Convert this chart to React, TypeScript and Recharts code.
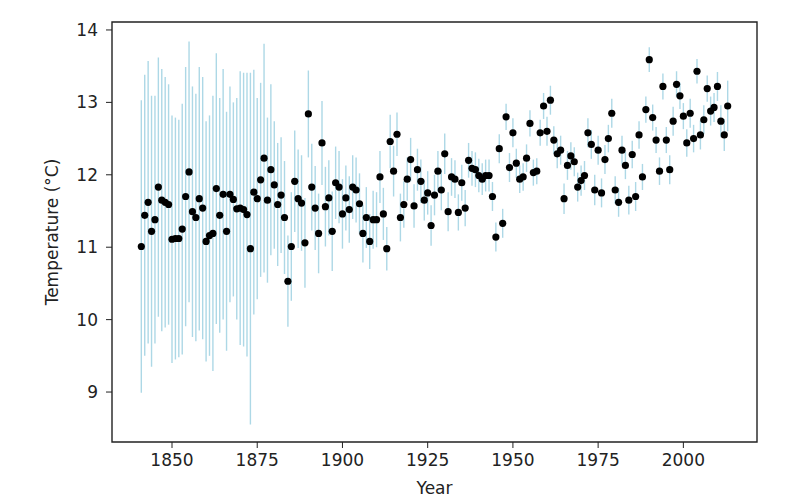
import React from 'react';
import { ScatterChart, Scatter, XAxis, YAxis, ErrorBar, ReferenceArea } from 'recharts';

// annual mean temperature, one value per year starting at 1841
const firstYear = 1841;
const temps = [
  11.01, 11.44, 11.62, 11.22, 11.38, 11.83, 11.65, 11.62, 11.59, 11.11,
  11.12, 11.12, 11.25, 11.7, 12.04, 11.49, 11.41, 11.67, 11.54, 11.08,
  11.16, 11.19, 11.81, 11.44, 11.73, 11.22, 11.73, 11.66, 11.53, 11.54,
  11.52, 11.45, 10.98, 11.76, 11.67, 11.93, 12.23, 11.65, 12.07, 11.86,
  11.59, 11.72, 11.41, 10.53, 11.01, 11.91, 11.67, 11.61, 11.06, 12.84,
  11.83, 11.54, 11.19, 12.44, 11.56, 11.68, 11.22, 11.89, 11.83, 11.46,
  11.68, 11.52, 11.83, 11.79, 11.6, 11.19, 11.41, 11.08, 11.38, 11.38,
  11.97, 11.46, 10.98, 12.46, 12.05, 12.56, 11.41, 11.59, 11.94, 12.21,
  11.57, 12.07, 11.91, 11.65, 11.75, 11.3, 11.72, 12.05, 11.79, 12.29,
  11.49, 11.97, 11.94, 11.48, 11.89, 11.54, 12.2, 12.09, 12.07, 11.99,
  11.94, 11.99, 11.99, 11.7, 11.14, 12.36, 11.33, 12.8, 12.1, 12.58,
  12.16, 11.94, 11.97, 12.23, 12.71, 12.03, 12.05, 12.58, 12.95, 12.6,
  13.03, 12.48, 12.29, 12.34, 11.67, 12.13, 12.26, 12.18, 11.83, 11.92,
  11.99, 12.58, 12.42, 11.79, 12.34, 11.75, 12.21, 12.5, 12.85, 11.79,
  11.62, 12.34, 12.13, 11.65, 12.28, 11.7, 12.55, 11.97, 12.9, 13.59,
  12.79, 12.48, 12.05, 13.22, 12.48, 12.07, 12.74, 13.25, 13.09, 12.81,
  12.44, 12.85, 12.5, 13.43, 12.55, 12.76, 13.19, 12.88, 12.93, 13.22,
  12.74, 12.55, 12.95,
];
// half-width of the uncertainty bar for each year
const uncertainty = [
  2.02, 1.94, 1.95, 1.87, 1.71, 1.79, 1.81, 1.73, 1.66, 1.71,
  1.67, 1.64, 1.73, 1.79, 1.8, 1.73, 1.71, 1.82, 1.81, 1.66,
  1.66, 1.9, 1.87, 1.62, 1.73, 1.65, 1.49, 1.34, 1.53, 1.89,
  1.89, 1.96, 2.43, 1.69, 1.39, 1.34, 1.58, 1.14, 1.18, 0.88,
  0.85, 0.8, 0.78, 0.63, 0.75, 0.7, 0.68, 0.66, 0.62, 0.6,
  0.6, 0.58, 0.55, 0.58, 0.55, 0.52, 0.55, 0.5, 0.5, 0.48,
  0.45, 0.46, 0.44, 0.45, 0.42, 0.4, 0.42, 0.38, 0.4, 0.38,
  0.36, 0.36, 0.3, 0.37, 0.35, 0.3, 0.33, 0.32, 0.3, 0.3,
  0.3, 0.29, 0.3, 0.28, 0.3, 0.28, 0.28, 0.28, 0.28, 0.28,
  0.27, 0.26, 0.26, 0.25, 0.25, 0.25, 0.24, 0.24, 0.24, 0.23,
  0.22, 0.22, 0.22, 0.2, 0.2, 0.2, 0.2, 0.18, 0.2, 0.2,
  0.2, 0.19, 0.19, 0.19, 0.18, 0.18, 0.18, 0.18, 0.18, 0.2,
  0.2, 0.19, 0.2, 0.2, 0.21, 0.2, 0.19, 0.2, 0.2, 0.21,
  0.2, 0.2, 0.2, 0.21, 0.2, 0.2, 0.2, 0.19, 0.2, 0.19,
  0.2, 0.2, 0.19, 0.2, 0.19, 0.2, 0.19, 0.18, 0.18, 0.17,
  0.18, 0.18, 0.19, 0.18, 0.18, 0.2, 0.2, 0.18, 0.18, 0.18,
  0.19, 0.2, 0.19, 0.17, 0.2, 0.2, 0.18, 0.2, 0.2, 0.2,
  0.22, 0.22, 0.35,
];

const xTicks = [1850, 1875, 1900, 1925, 1950, 1975, 2000];
const yTicks = [9, 10, 11, 12, 13, 14];

const data = temps.map((t, i) => ({ year: firstYear + i, temp: t, err: uncertainty[i] }));

const X_DOMAIN: [number, number] = [1832.4, 2021.6];
const Y_DOMAIN: [number, number] = [8.31, 14.11];

const FONT = "'DejaVu Sans', sans-serif";
const tickStyle = { fontSize: 17, fill: '#222', fontFamily: FONT };

const Dot = (props: any) => {
  const { cx, cy } = props;
  if (cx == null || cy == null) return null;
  return <circle cx={cx} cy={cy} r={3.6} fill="#000" />;
};

const XLabel = (props: any) => {
  const { x, y, width } = props.viewBox;
  return (
    <text x={x + width / 2} y={y + 52} textAnchor="middle" fontSize={17} fill="#222" fontFamily={FONT}>
      Year
    </text>
  );
};

const YLabel = (props: any) => {
  const { y, height } = props.viewBox;
  const cx = 52;
  const cy = y + height / 2;
  return (
    <text
      x={cx}
      y={cy}
      transform={`rotate(-90, ${cx}, ${cy})`}
      textAnchor="middle"
      dominantBaseline="central"
      fontSize={17}
      fill="#222"
      fontFamily={FONT}
    >
      Temperature (°C)
    </text>
  );
};

export default function App() {
  return (
    <div style={{ position: 'absolute', left: 0, top: 0, width: 800, height: 499, background: '#fff' }}>
      <ScatterChart width={800} height={499} margin={{ top: 22, right: 43, bottom: 0, left: 0 }}>
        <XAxis
          type="number"
          dataKey="year"
          domain={X_DOMAIN}
          ticks={xTicks}
          allowDataOverflow
          height={57}
          tick={tickStyle}
          tickSize={6}
          tickMargin={6}
          stroke="#222"
          axisLine={false}
          label={XLabel}
        />
        <YAxis
          type="number"
          dataKey="temp"
          domain={Y_DOMAIN}
          ticks={yTicks}
          allowDataOverflow
          width={112}
          tick={tickStyle}
          tickSize={6}
          tickMargin={8}
          stroke="#222"
          axisLine={false}
          label={YLabel}
        />
        <Scatter data={data} shape={<Dot />} isAnimationActive={false}>
          <ErrorBar dataKey="err" direction="y" width={0} stroke="#add8e6" strokeWidth={1.4} />
        </Scatter>
        <ReferenceArea
          x1={X_DOMAIN[0]}
          x2={X_DOMAIN[1]}
          y1={Y_DOMAIN[0]}
          y2={Y_DOMAIN[1]}
          fill="none"
          stroke="#222"
          strokeWidth={1.4}
          ifOverflow="extendDomain"
        />
      </ScatterChart>
    </div>
  );
}
